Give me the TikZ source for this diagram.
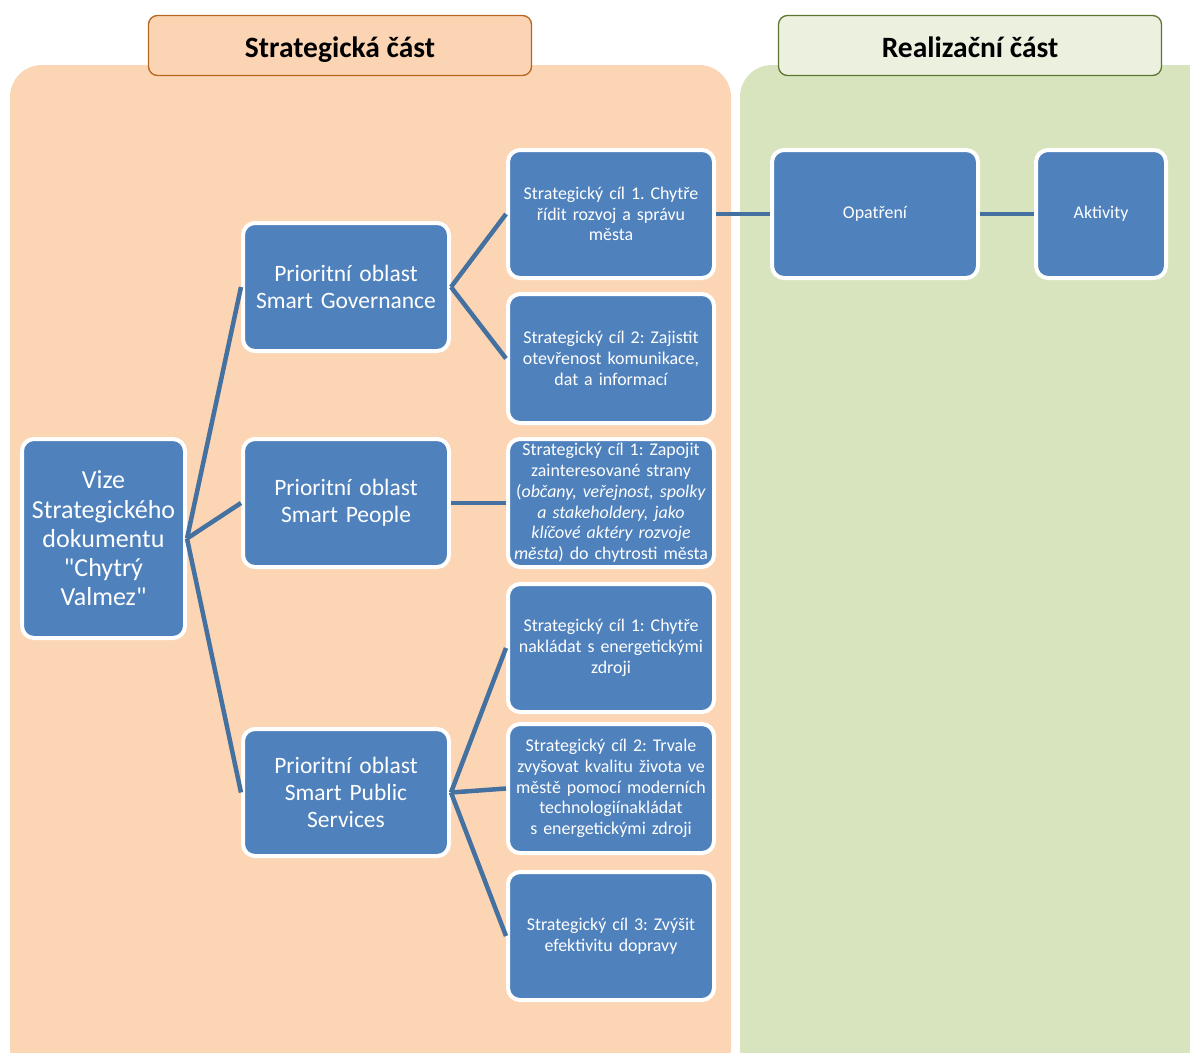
\documentclass[tikz,border=0pt]{standalone}
\usepackage{fontspec}
\setmainfont{Carlito}[Ligatures=TeXOff]
\definecolor{peachbg}{HTML}{FCD5B5}
\definecolor{peachhd}{HTML}{FBD4B4}
\definecolor{peachbd}{HTML}{B5651D}
\definecolor{greenbg}{HTML}{D7E4BD}
\definecolor{greenhd}{HTML}{EBF1DE}
\definecolor{greenbd}{HTML}{5E7530}
\definecolor{boxblue}{HTML}{4F81BD}
\definecolor{linkblue}{HTML}{44719F}
\tikzset{
  bx/.style={draw=white, line width=4pt, fill=boxblue, rounded corners=12pt,
    text=white, align=center, inner sep=1pt},
  small/.style={bx, font=\fontsize{17.9}{20.8}\selectfont},
  mid/.style={bx, font=\fontsize{23.5}{27}\selectfont},
  big/.style={bx, font=\fontsize{26}{29.2}\selectfont},
  hdr/.style={line width=1.3pt, rounded corners=9pt, align=center,
    font=\fontsize{29.5}{32}\selectfont\bfseries, inner sep=0pt,
    text height=25pt, text depth=2pt},
  link/.style={draw=linkblue, line width=4.5pt}
}
\begin{document}
\frenchspacing
\begin{tikzpicture}[x=1pt,y=-1pt]
\clip (0,0) rectangle (1190,1052);
\fill[white] (0,0) rectangle (1190,1052);
% backgrounds
\fill[peachbg, rounded corners=32pt] (10,65) rectangle (731,1080);
\fill[greenbg, rounded corners=32pt] (740,65) rectangle (1230,1080);
% headers
\node[hdr, draw=peachbd, fill=peachhd, minimum width=383pt, minimum height=60pt] (hs) at (340,45.5) {Strategická část};
\node[hdr, draw=greenbd, fill=greenhd, minimum width=383pt, minimum height=60pt] (hr) at (970,45.5) {Realizační část};
% boxes
\node[big, minimum width=163pt, minimum height=199pt, text width=160pt] (vize) at (103.5,538.5)
  {Vize\\Strategického\\dokumentu\\"Chytrý\\Valmez"};
\node[mid, minimum width=206pt, minimum height=128pt, text width=204pt] (gov) at (346,287)
  {Prioritní oblast\\Smart Governance};
\node[mid, minimum width=206pt, minimum height=128pt, text width=204pt] (peo) at (346,503)
  {Prioritní oblast\\Smart People};
\node[mid, minimum width=206pt, minimum height=127pt, text width=204pt] (pub) at (346,792.5)
  {Prioritní oblast\\Smart Public\\Services};
\node[small, minimum width=206pt, minimum height=128pt, text width=204pt] (g1) at (611,214)
  {Strategický cíl 1. Chytře\\řídit rozvoj a správu\\města};
\node[small, minimum width=206pt, minimum height=129pt, text width=204pt] (g2) at (611,358.5)
  {Strategický cíl 2: Zajistit\\otevřenost komunikace,\\dat a informací};
\node[small, minimum width=206pt, minimum height=128pt, text width=204pt] (p1) at (611,503)
  {Strategický cíl 1: Zapojit\\zainteresované strany\\(\textit{občany, veřejnost, spolky}\\\textit{a stakeholdery, jako}\\\textit{klíčové aktéry rozvoje}\\\textit{města}) do chytrosti města};
\node[small, minimum width=206pt, minimum height=128pt, text width=204pt] (s1) at (611,648)
  {Strategický cíl 1: Chytře\\nakládat s energetickými\\zdroji};
\node[small, minimum width=206pt, minimum height=129pt, text width=204pt] (s2) at (611,788.5)
  {Strategický cíl 2: Trvale\\zvyšovat kvalitu života ve\\městě pomocí moderních\\technologiínakládat\\s energetickými zdroji};
\node[small, minimum width=206pt, minimum height=128pt, text width=204pt] (s3) at (611,936)
  {Strategický cíl 3: Zvýšit\\efektivitu dopravy};
\node[small, minimum width=206pt, minimum height=128pt, text width=204pt] (op) at (875,214)
  {Opatření};
\node[small, minimum width=130pt, minimum height=128pt, text width=128pt] (ak) at (1101,214)
  {Aktivity};
% connectors
\draw[link] (vize.east) -- (gov.west);
\draw[link] (vize.east) -- (peo.west);
\draw[link] (vize.east) -- (pub.west);
\draw[link] (gov.east) -- (g1.west);
\draw[link] (gov.east) -- (g2.west);
\draw[link] (peo.east) -- (p1.west);
\draw[link] (pub.east) -- (s1.west);
\draw[link] (pub.east) -- (s2.west);
\draw[link] (pub.east) -- (s3.west);
\draw[link] (g1.east) -- (op.west);
\draw[link] (op.east) -- (ak.west);
\end{tikzpicture}
\end{document}
